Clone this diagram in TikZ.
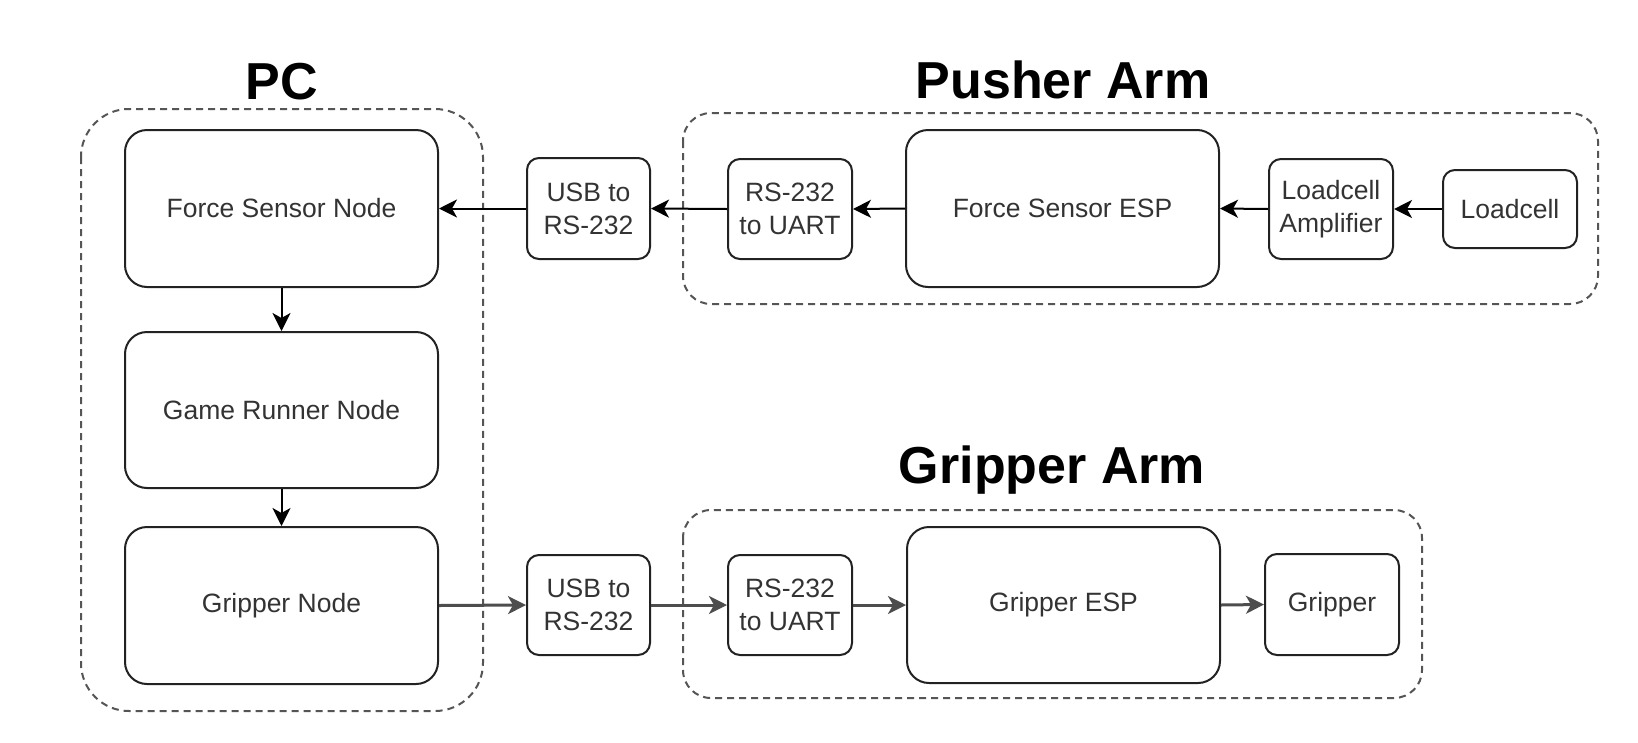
\documentclass[tikz,border=0pt]{standalone}
\usepackage{fontspec}
\setmainfont{Liberation Sans}
\usetikzlibrary{arrows.meta}
\definecolor{txt}{HTML}{333333}
\definecolor{edge}{HTML}{222222}
\definecolor{cont}{HTML}{555555}
\definecolor{garrow}{HTML}{4D4D4D}
\tikzset{
  bigbox/.style={draw=edge, line width=2pt, rounded corners=22pt, inner sep=0pt,
    text=txt, align=center, font=\fontsize{26.5}{33}\selectfont},
  smallbox/.style={draw=edge, line width=2pt, rounded corners=12pt, inner sep=0pt,
    text=txt, align=center, font=\fontsize{26.5}{33}\selectfont},
  container/.style={draw=cont, line width=2pt, dash pattern=on 7pt off 5pt},
  title/.style={font=\fontsize{52}{60}\selectfont\bfseries, anchor=base, inner sep=0pt},
  conn/.style={draw=black, line width=2pt, -{Stealth[length=18pt, width=18pt, inset=5pt]}},
  gconn/.style={draw=garrow, line width=3pt, -{Stealth[length=18pt, width=18pt, inset=5pt]}}
}
\begin{document}
\begin{tikzpicture}[x=1pt, y=-1pt]
\useasboundingbox[fill=white] (0,0) rectangle (1638,742);
% containers
\draw[container, rounded corners=48pt] (81,109) rectangle (483,711);
\draw[container, rounded corners=28pt] (683,113) rectangle (1598,304);
\draw[container, rounded corners=28pt] (683,510) rectangle (1422,698);
% titles
\node[title] (tpc) at (282,99) {PC};
\node[title] (tpa) at (1063,98) {Pusher Arm};
\node[title] (tga) at (1052,483) {Gripper Arm};
% PC nodes
\node[bigbox, minimum width=313pt, minimum height=157pt] (fsn) at (281.5,208.5) {Force Sensor Node};
\node[bigbox, minimum width=313pt, minimum height=156pt] (grn) at (281.5,410) {Game Runner Node};
\node[bigbox, minimum width=313pt, minimum height=157pt] (gn) at (281.5,605.5) {Gripper Node};
% pusher row
\node[smallbox, minimum width=123pt, minimum height=101pt] (usb1) at (588.5,208.5) {USB to\\RS-232};
\node[smallbox, minimum width=124pt, minimum height=100pt] (rsu1) at (790,209) {RS-232\\to UART};
\node[bigbox, minimum width=313pt, minimum height=157pt] (fesp) at (1062.5,208.5) {Force Sensor ESP};
\node[smallbox, minimum width=124pt, minimum height=100pt] (lamp) at (1331,209) {Loadcell\\Amplifier};
\node[smallbox, minimum width=134pt, minimum height=78pt] (lc) at (1510,209) {Loadcell};
% gripper row
\node[smallbox, minimum width=123pt, minimum height=100pt] (usb2) at (588.5,605) {USB to\\RS-232};
\node[smallbox, minimum width=124pt, minimum height=100pt] (rsu2) at (790,605) {RS-232\\to UART};
\node[bigbox, minimum width=313pt, minimum height=156pt] (gesp) at (1063.5,605) {Gripper ESP};
\node[smallbox, minimum width=134pt, minimum height=101pt] (grip) at (1332,604.5) {Gripper};
% connectors
\draw[conn] (fsn.south) -- (grn.north);
\draw[conn] (grn.south) -- (gn.north);
\draw[conn] (usb1.west) -- (fsn.east);
\draw[conn] (rsu1.west) -- (usb1.east);
\draw[conn] (fesp.west) -- (rsu1.east);
\draw[conn] (lamp.west) -- (fesp.east);
\draw[conn] (lc.west) -- (lamp.east);
\draw[gconn] (gn.east) -- (usb2.west);
\draw[gconn] (usb2.east) -- (rsu2.west);
\draw[gconn] (rsu2.east) -- (gesp.west);
\draw[gconn] (gesp.east) -- (grip.west);
\end{tikzpicture}
\end{document}
